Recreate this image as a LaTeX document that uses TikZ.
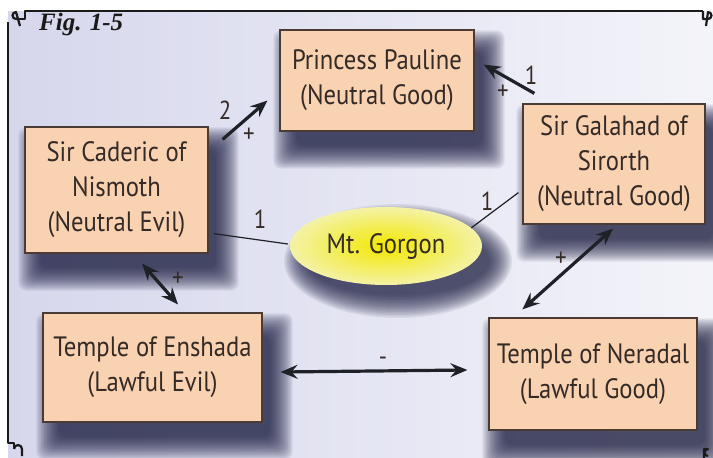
\documentclass[tikz,border=0pt]{standalone}
\usepackage{fontspec}
\setmainfont{PT Sans}[FakeStretch=0.88]
\newfontfamily\figfont{Liberation Serif}
\usetikzlibrary{calc,arrows.meta,shapes.geometric}
\definecolor{boxfill}{HTML}{F9D2B2}
\definecolor{boxline}{HTML}{4A3B34}
\definecolor{txt}{HTML}{342A26}
\definecolor{bgL}{HTML}{D6D7EC}
\definecolor{bgR}{HTML}{F4F4FA}
\definecolor{shadc}{HTML}{1A1C40}
\definecolor{arr}{HTML}{1E2226}
\definecolor{framec}{HTML}{1A1A1A}
\definecolor{yelin}{HTML}{F2E800}
\definecolor{yelout}{HTML}{F4F2A6}
\pgfdeclarelayer{back}
\pgfdeclarelayer{shadowlayer}
\pgfsetlayers{back,shadowlayer,main}
\newcommand\boxshadow[1]{%
  \begin{pgfonlayer}{shadowlayer}
  \foreach \k in {0,...,15}{%
    \fill[shadc, opacity=0.085, rounded corners=8pt]
      ($(#1.north west)+(12-18+\k*1.5, 19-18+\k*1.5)$) rectangle
      ($(#1.south east)+(12+18-\k*1.5, 19+18-\k*1.5)$);
  }
  \end{pgfonlayer}}
\newcommand\ellshadow[1]{%
  \begin{pgfonlayer}{shadowlayer}
  \foreach \k in {0,...,15}{%
    \fill[shadc, opacity=0.08]
      ($(#1.center)+(12,15)$) ellipse[x radius={96+18-\k*1.5}, y radius={39+18-\k*1.5}];
  }
  \end{pgfonlayer}}
\begin{document}
\begin{tikzpicture}[x=1pt,y=-1pt,
  box/.style={draw=boxline, line width=1.2pt, fill=boxfill, text=txt, align=center,
    inner sep=0pt, font=\fontsize{28}{35}\selectfont},
  lbl/.style={text=txt, font=\fontsize{26}{28}\selectfont, inner sep=0pt},
  bigarrow/.style={draw=arr, line width=3.2pt, -{Stealth[length=17pt,width=14pt,inset=6pt]}},
  dblarrow/.style={draw=arr, line width=3.2pt, {Stealth[length=17pt,width=14pt,inset=6pt]}-{Stealth[length=17pt,width=14pt,inset=6pt]}},
  thin/.style={draw=arr, line width=1.2pt},
  framepath/.style={draw=framec, line width=2.2pt, line join=round}
]
\useasboundingbox (0,0) rectangle (713,458);
\begin{pgfonlayer}{back}
\fill[white] (-5,-5) rectangle (720,465);
\shade[left color=bgL, right color=bgR] (8,11) rectangle (725,470);
\end{pgfonlayer}
% frame
\draw[framepath] (703,11) -- (25,11) -- (25,19) -- (16,19);
\draw[framepath] (16,19) arc[start angle=90, end angle=270, radius=3.5] -- (20,26);
\draw[framepath] (8,22) -- (8,443) -- (14,443) -- (14,449);
\draw[framepath] (14,449) arc[start angle=180, end angle=360, radius=4] -- (22,456);
\draw[framepath] (703,11) -- (703,19) -- (708,19) arc[start angle=90, end angle=-90, radius=3.5] -- (706,26);
\draw[framepath] (704,460) -- (704,449) -- (708,449) arc[start angle=270, end angle=90, radius=3.5];
\node[anchor=base west, inner sep=0pt, text=framec, font=\figfont\bfseries\itshape\fontsize{25}{27}\selectfont] (fig) at (39,30) {Fig. 1-5};
% boxes
\node[box, minimum width=194pt, minimum height=101pt] (pau) at (377,80.5) {Princess Pauline\\(Neutral Good)};
\node[box, minimum width=182pt, minimum height=120pt] (gal) at (614,164) {Sir Galahad of\\Sirorth\\(Neutral Good)};
\node[box, minimum width=183pt, minimum height=126pt] (cad) at (116.5,190) {Sir Caderic of\\Nismoth\\(Neutral Evil)};
\node[box, minimum width=219pt, minimum height=109pt] (ens) at (152.5,367.5) {Temple of Enshada\\(Lawful Evil)};
\node[box, minimum width=208pt, minimum height=112pt] (ner) at (593,374) {Temple of Neradal\\(Lawful Good)};
\node[ellipse, minimum width=192pt, minimum height=78pt, inner sep=0pt,
  inner color=yelin, outer color=yelout,
  text=txt, font=\fontsize{28}{30}\selectfont] (gor) at (386,246) {Mt. Gorgon};
\boxshadow{pau}
\boxshadow{gal}
\boxshadow{cad}
\boxshadow{ens}
\boxshadow{ner}
\ellshadow{gor}
% connectors
\draw[bigarrow] ($(cad.north east)+(14,13)$) -- ($(pau.south west)+(-12,-31)$);
\draw[bigarrow] ($(gal.north west)+(12,-10)$) -- ($(pau.east)+(9,-16)$);
\draw[thin] ($(cad.south east)+(5,-20)$) -- ($(gor.west)+(-2,-2)$);
\draw[thin] (gor.12) -- ($(gal.south west)+(-4,-32)$);
\draw[dblarrow] ($(cad.south)+(25.5,10)$) -- ($(ens.north)+(25.5,-8)$);
\draw[dblarrow] ($(gal.south)+(-1,4)$) -- ($(ner.north west)+(34,-8)$);
\draw[dblarrow] ($(ens.east)+(18,4.5)$) -- ($(ner.west)+(-21,-4)$);
% labels
\node[lbl] (l2) at (225,110) {2};
\node[lbl] (p1) at (249,135) {+};
\node[lbl] (l1a) at (531,75) {1};
\node[lbl] (p2) at (503,92) {+};
\node[lbl] (l1b) at (260,219) {1};
\node[lbl] (l1c) at (487,201) {1};
\node[lbl] (p3) at (178,279) {+};
\node[lbl] (p4) at (561,259) {+};
\node[lbl] (m1) at (383,361) {-};
\end{tikzpicture}
\end{document}
